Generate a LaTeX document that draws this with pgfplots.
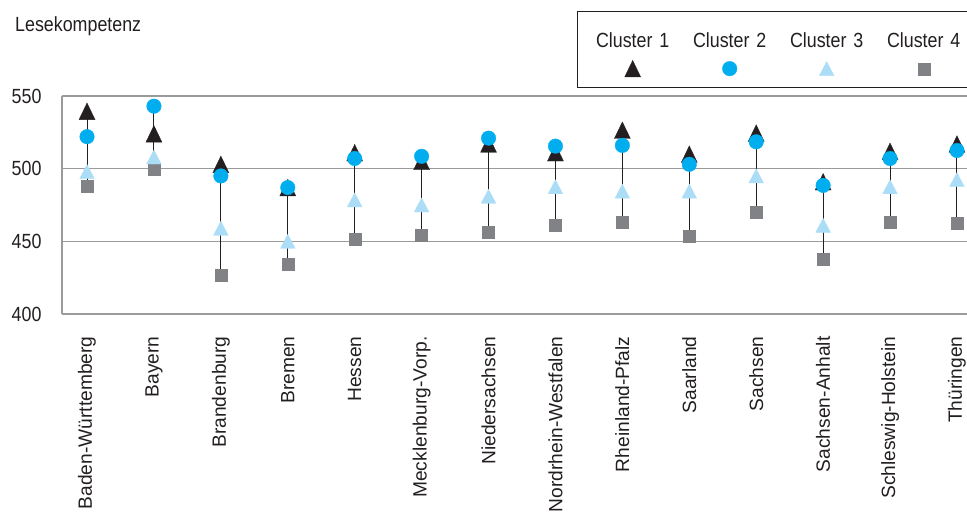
\documentclass[border=0pt]{standalone}
\usepackage{fontspec}
\setmainfont{Liberation Sans}[FakeStretch=0.87]
\newfontfamily\regfont{Liberation Sans}
\usepackage{pgfplots}
\pgfplotsset{compat=1.18}
\usepackage{pgfplotstable}

\definecolor{cOne}{RGB}{35,31,32}
\definecolor{cTwo}{RGB}{0,174,239}
\definecolor{cThree}{RGB}{171,221,246}
\definecolor{cFour}{RGB}{128,130,133}
\definecolor{gridg}{RGB}{155,155,155}

\pgfplotstableread{
x  c1    c2    c3    c4
0  539.5 522   498   488
1  524   543   508   500
2  503   495   459   427
3  487   487   450   434.5
4  511   507   478.5 451.5
5  505   508.5 475   454.5
6  517   521   481   456
7  511   515.5 487.5 461
8  526.5 516   484.5 463
9  510   503   484.5 453.5
10 524.5 518.5 495   470
11 491   488.5 461   438
12 512   507   487.5 463.5
13 517   512.5 492.5 462.5
}\data

\pgfplotsset{
  cAstyle/.style={mark=triangle*, mark size=9.24pt, mark options={solid, draw=cOne, fill=cOne, line width=0.3pt, yshift=-2.8pt, yscale=1.2}},
  cBstyle/.style={mark=*, mark size=7.3pt, mark options={solid, draw=cTwo, fill=cTwo, line width=0.3pt}},
  cCstyle/.style={mark=triangle*, mark size=8.5pt, mark options={solid, draw=cThree, fill=cThree, line width=0.3pt, yshift=-2.34pt, yscale=1.1}},
  cDstyle/.style={mark=square*, mark size=6pt, mark options={solid, draw=cFour, fill=cFour, line width=0.3pt}},
}

\begin{document}
\begin{tikzpicture}
\begin{axis}[name=ax, scale only axis, width=905pt, height=218pt,
  xmin=-0.374, xmax=13.15, ymin=400, ymax=550,
  xtick={0,1,2,3,4,5,6,7,8,9,10,11,12,13},
  xticklabels={Baden-Württemberg, Bayern, Brandenburg, Bremen, Hessen, Mecklenburg-Vorp., Niedersachsen, Nordrhein-Westfalen, Rheinland-Pfalz, Saarland, Sachsen, Sachsen-Anhalt, Schleswig-Holstein, Thüringen},
  ytick={400,450,500,550},
  axis x line*=bottom, axis y line*=left,
  axis line style={gridg, line width=1.3pt},
  ymajorgrids, major grid style={gridg, line width=1.3pt},
  major tick length=0pt,
  clip=false,
  /pgf/number format/assume math mode=true,
  xticklabel style={font=\regfont\fontsize{19.2}{22}\selectfont, rotate=90, anchor=east, text=cOne},
  xticklabel shift=19pt,
  yticklabel style={font=\fontsize{20.5}{24}\selectfont, text=cOne},
  yticklabel shift=17pt,
  legend columns=4,
  legend style={at={(0.5691,1.3899)}, anchor=north west, draw=cOne, line width=1.3pt,
    inner xsep=6.5pt, inner ysep=0pt, column sep=0pt,
    font=\fontsize{20.5}{24}\selectfont, text=cOne,
    nodes={draw=none, text width=93pt, align=center, inner sep=2pt}},
  legend image code/.code={\path[draw=none] (0pt,-47pt) -- (0pt,29pt); \draw[#1, overlay] plot coordinates {(48.5pt,-28pt)};},
]
\addlegendimage{cAstyle}\addlegendentry{Cluster 1}
\addlegendimage{cBstyle}\addlegendentry{Cluster 2}
\addlegendimage{cCstyle}\addlegendentry{Cluster 3}
\addlegendimage{cDstyle}\addlegendentry{Cluster 4}

\addplot[only marks, mark=none, forget plot,
  error bars/.cd, y dir=plus, y explicit, error mark=none,
  error bar style={cOne, line width=1pt}]
  table[x=x, y expr={min(\thisrow{c1},\thisrow{c2},\thisrow{c3},\thisrow{c4})},
    y error expr={max(\thisrow{c1},\thisrow{c2},\thisrow{c3},\thisrow{c4})-min(\thisrow{c1},\thisrow{c2},\thisrow{c3},\thisrow{c4})}] {\data};

\addplot[only marks, cDstyle, forget plot] table[x=x, y=c4] {\data};
\addplot[only marks, cCstyle, forget plot] table[x=x, y=c3] {\data};
\addplot[only marks, cAstyle, forget plot] table[x=x, y=c1] {\data};
\addplot[only marks, cBstyle, forget plot] table[x=x, y=c2] {\data};
\end{axis}
\node[anchor=base west, font=\fontsize{20.5}{24}\selectfont, text=cOne] at ([xshift=-50.3pt,yshift=64.3pt]ax.north west) {Lesekompetenz};
\pgfresetboundingbox
\path ([xshift=-62pt,yshift=-202pt]ax.south west) rectangle ([yshift=96pt]ax.north east);
\end{tikzpicture}
\end{document}
